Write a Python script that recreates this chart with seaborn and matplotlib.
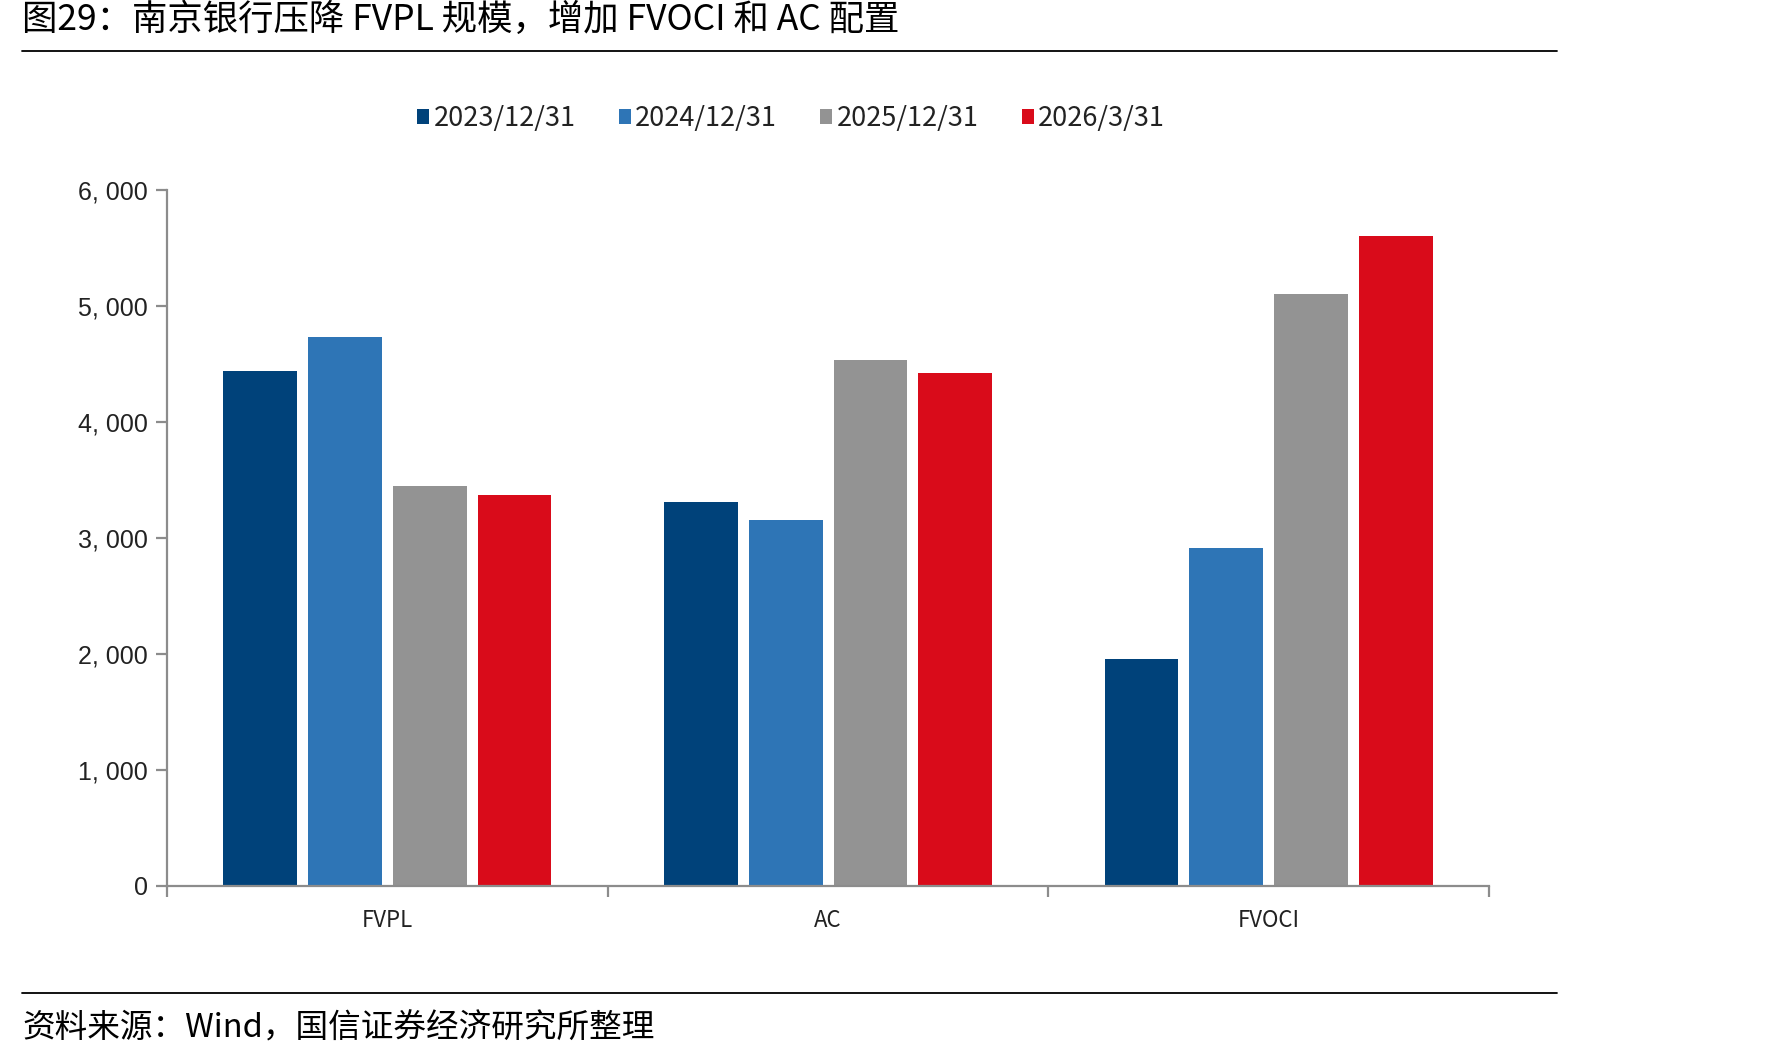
import pandas as pd
import matplotlib.pyplot as plt
import seaborn as sns
from matplotlib.lines import Line2D
from matplotlib.ticker import FuncFormatter, FixedLocator

# data
categories = ['FVPL', 'AC', 'FVOCI']
periods = ['2023/12/31', '2024/12/31', '2025/12/31', '2026/3/31']
v_2023 = [4440, 3310, 1955]
v_2024 = [4730, 3155, 2910]
v_2025 = [3445, 4535, 5100]
v_2026 = [3365, 4420, 5600]
colors = ['#00427A', '#2E75B6', '#939393', '#D90B1A']

sns.set_theme(style='white')
plt.rcParams['font.family'] = ['Noto Sans CJK SC', 'DejaVu Sans']

rows = []
for period, vals in zip(periods, [v_2023, v_2024, v_2025, v_2026]):
    for cat, v in zip(categories, vals):
        rows.append({'category': cat, 'period': period, 'value': v})
df = pd.DataFrame(rows)

fig = plt.figure(figsize=(17.71, 10.61), dpi=100)
ax = fig.add_axes([0.0943, 0.1654, 0.7465, 0.6555])

sns.barplot(data=df, x='category', y='value', hue='period', order=categories,
            hue_order=periods, palette=colors, width=0.77, gap=0.13,
            saturation=1, edgecolor='none', ax=ax)

ax.set_xlim(-0.5, 2.5)
ax.set_ylim(0, 6000)
ax.set_yticks(range(0, 6001, 1000))
ax.yaxis.set_major_formatter(FuncFormatter(lambda v, p: f'{int(v):,}'.replace(',', ', ')))
ax.set_xlabel('')
ax.set_ylabel('')

for s in ['top', 'right']:
    ax.spines[s].set_visible(False)
for s in ['left', 'bottom']:
    ax.spines[s].set_color('#8C8C8C')
    ax.spines[s].set_linewidth(1.6)

ax.tick_params(axis='y', which='major', left=True, length=8, width=1.6, color='#8C8C8C',
               pad=6, labelsize=18, labelcolor='#222222')
for lab in ax.get_yticklabels():
    lab.set_family(['Liberation Sans', 'DejaVu Sans'])
ax.tick_params(axis='x', which='major', length=0, pad=17, labelsize=16, labelcolor='#222222')
ax.xaxis.set_minor_locator(FixedLocator([-0.5, 0.5, 1.5, 2.5]))
ax.tick_params(axis='x', which='minor', bottom=True, length=8, width=1.6, color='#8C8C8C')

leg = ax.legend(loc='center', bbox_to_anchor=(0.4466, 0.888), bbox_transform=fig.transFigure,
                ncol=4, frameon=False, fontsize=19.5, handlelength=0.45, handleheight=0.45,
                handletextpad=0.15, columnspacing=1.6)
for t in leg.get_texts():
    t.set_color('#222222')

fig.text(0.0124, 0.981, '图29：南京银行压降 FVPL 规模，增加 FVOCI 和 AC 配置',
         fontsize=25.5, va='center', ha='left', color='black')
fig.text(0.0124, 0.031, '资料来源：Wind，国信证券经济研究所整理',
         fontsize=23.5, va='center', ha='left', color='black')
fig.add_artist(Line2D([0.0124, 0.879], [0.952, 0.952], color='black', linewidth=1.3,
                      transform=fig.transFigure))
fig.add_artist(Line2D([0.0124, 0.879], [0.064, 0.064], color='black', linewidth=1.3,
                      transform=fig.transFigure))

fig.savefig('out.png', dpi=100)
